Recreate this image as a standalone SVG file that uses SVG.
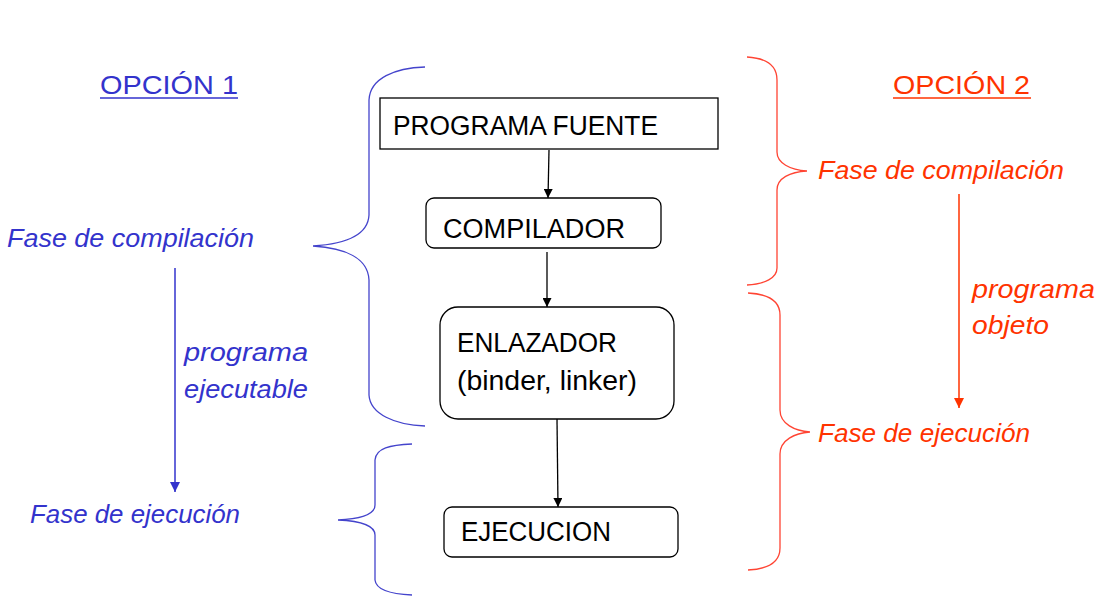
<svg xmlns="http://www.w3.org/2000/svg" width="1120" height="602" viewBox="0 0 1120 602">
<style>
.box{fill:#fff;stroke:#000;stroke-width:1.3}
.bt{font-family:"Liberation Sans",Arial,sans-serif;font-size:27px;fill:#000}
.blue{fill:#3333cc;font-family:"Liberation Sans",Arial,sans-serif}
.red{fill:#ff3300;font-family:"Liberation Sans",Arial,sans-serif}
.it{font-style:italic;font-size:25px}
.hd{font-size:26px}
.bb{fill:none;stroke:#4444cc;stroke-width:1.3}
.rb{fill:none;stroke:#ff4433;stroke-width:1.3}
.con{stroke:#000;stroke-width:1.3;fill:none}
</style>
<defs>
<marker id="ak" viewBox="0 0 10 10" refX="10" refY="5" markerWidth="9" markerHeight="9" markerUnits="userSpaceOnUse" orient="auto"><path d="M0,0 L10,5 L0,10 z" fill="#000"/></marker>
<marker id="ab" viewBox="0 0 10 10" refX="10" refY="5" markerWidth="10" markerHeight="10" markerUnits="userSpaceOnUse" orient="auto"><path d="M0,0 L10,5 L0,10 z" fill="#3333cc"/></marker>
<marker id="ar" viewBox="0 0 10 10" refX="10" refY="5" markerWidth="10" markerHeight="10" markerUnits="userSpaceOnUse" orient="auto"><path d="M0,0 L10,5 L0,10 z" fill="#ff3300"/></marker>
</defs>

<g id="option1">
<text class="blue hd" x="100" y="94" textLength="138" lengthAdjust="spacingAndGlyphs">OPCIÓN 1</text>
<line x1="100" y1="98" x2="238" y2="98" stroke="#3333cc" stroke-width="1.5"/>
<text class="blue it" x="7" y="247" textLength="247" lengthAdjust="spacingAndGlyphs">Fase de compilación</text>
<text class="blue it" x="184" y="361" textLength="124" lengthAdjust="spacingAndGlyphs">programa</text>
<text class="blue it" x="184" y="398" textLength="124" lengthAdjust="spacingAndGlyphs">ejecutable</text>
<text class="blue it" x="30" y="523" textLength="210" lengthAdjust="spacingAndGlyphs">Fase de ejecución</text>
<line x1="175" y1="268" x2="175" y2="492" stroke="#3333cc" stroke-width="1.5" marker-end="url(#ab)"/>
<path class="bb" d="M425,67 C395,68 370,78 369,100 L369,215 C368,236 345,244 313,246 C345,248 368,258 369,280 L369,395 C370,414 395,425 425,426"/>
<path class="bb" d="M412,444 C390,445 376,448 375,460 L375,505 C375,515 360,519 338,520 C360,521 375,525 375,535 L375,580 C376,590 390,594 412,595"/>
</g>

<g id="option2">
<text class="red hd" x="893" y="94" textLength="137" lengthAdjust="spacingAndGlyphs">OPCIÓN 2</text>
<line x1="893" y1="98" x2="1031" y2="98" stroke="#ff3300" stroke-width="1.5"/>
<text class="red it" x="818" y="179" textLength="246" lengthAdjust="spacingAndGlyphs">Fase de compilación</text>
<text class="red it" x="972" y="298" textLength="123" lengthAdjust="spacingAndGlyphs">programa</text>
<text class="red it" x="972" y="334" textLength="77" lengthAdjust="spacingAndGlyphs">objeto</text>
<text class="red it" x="818" y="442" textLength="212" lengthAdjust="spacingAndGlyphs">Fase de ejecución</text>
<line x1="959" y1="194" x2="959" y2="408" stroke="#ff3300" stroke-width="1.5" marker-end="url(#ar)"/>
<path class="rb" d="M747,57 C765,58 777,64 777,80 L777,152 C777,163 790,170 807,171 C790,172 777,178 777,190 L777,268 C777,278 765,284 747,285"/>
<path class="rb" d="M748,293 C768,294 780,300 780,315 L780,410 C780,424 795,431 810,432 C795,433 780,440 780,454 L780,548 C780,562 768,569 748,570"/>
</g>

<g id="programa-fuente">
<rect class="box" x="380" y="98" width="338" height="51"/>
<text class="bt" x="393" y="135" textLength="265" lengthAdjust="spacingAndGlyphs">PROGRAMA FUENTE</text>
</g>
<g id="compilador">
<rect class="box" x="426" y="198" width="235" height="50" rx="8"/>
<text class="bt" x="443" y="238" textLength="182" lengthAdjust="spacingAndGlyphs">COMPILADOR</text>
</g>
<g id="enlazador">
<rect class="box" x="440" y="307" width="234" height="112" rx="18"/>
<text class="bt" x="457" y="352" textLength="160" lengthAdjust="spacingAndGlyphs">ENLAZADOR</text>
<text class="bt" x="457" y="390" textLength="180" lengthAdjust="spacingAndGlyphs">(binder, linker)</text>
</g>
<g id="ejecucion">
<rect class="box" x="444" y="507" width="234" height="50" rx="8"/>
<text class="bt" x="461" y="541" textLength="150" lengthAdjust="spacingAndGlyphs">EJECUCION</text>
</g>

<g id="connectors">
<line class="con" x1="549" y1="150" x2="548" y2="198" marker-end="url(#ak)"/>
<line class="con" x1="547" y1="252" x2="547" y2="307" marker-end="url(#ak)"/>
<line class="con" x1="557" y1="419" x2="558" y2="507" marker-end="url(#ak)"/>
</g>
</svg>
